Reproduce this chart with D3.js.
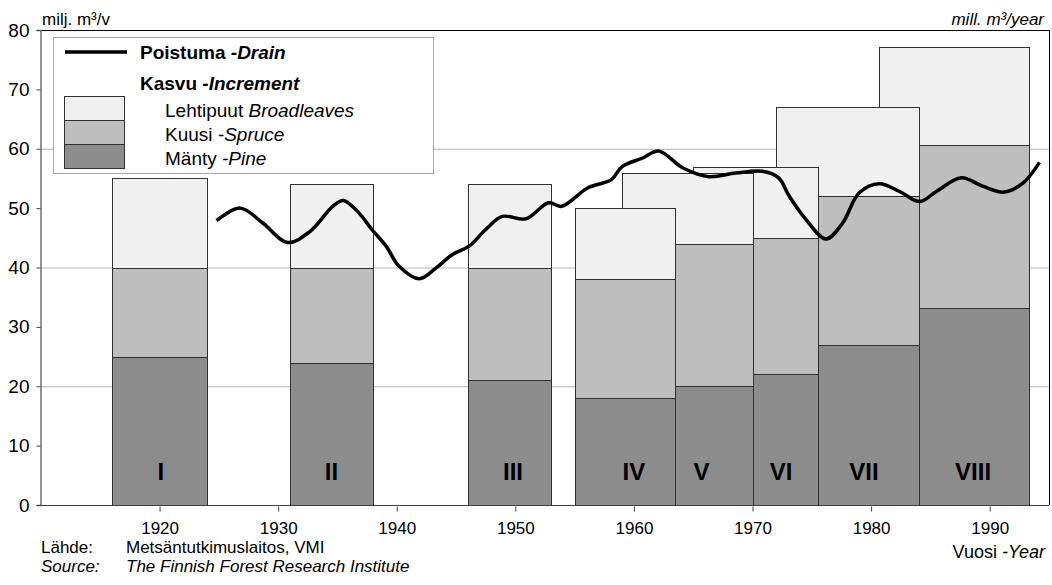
<!DOCTYPE html>
<html>
<head>
<meta charset="utf-8">
<script src="https://cdn.jsdelivr.net/npm/d3@7"></script>
<style>
  body { margin: 0; background: #fff; }
  text { font-family: "Liberation Sans", Arial, sans-serif; fill: #000; }
</style>
</head>
<body>
<div id="chart"></div>
<script>
// inventory periods (roman numerals) and the years each bar spans
var periods = ["I", "II", "III", "IV", "V", "VI", "VII", "VIII"];
var barStart = [1916, 1931, 1946, 1955, 1959, 1965, 1972, 1980.7];
var barEnd = [1924, 1938, 1953, 1963.5, 1970, 1975.5, 1984, 1993.3];
var labelYear = [1920.1, 1934.5, 1949.8, 1960, 1965.7, 1972.4, 1979.4, 1988.6];

// increment by species, mill. m3/year
var pine = [25, 24, 21, 18, 20, 22, 27, 33.2];
var spruce = [15, 16, 19, 20, 24, 23, 25, 27.4];
var broadleaves = [15, 14, 14, 12, 12, 12, 15, 16.6];

// drain
var drainYears = [1924.8, 1926.8, 1928.7, 1930.8, 1932.7, 1934.6, 1935.5, 1936.8, 1937.9, 1939.1,
  1940.2, 1941.9, 1943.3, 1944.7, 1946.1, 1947.5, 1948.9, 1950.9, 1952.8, 1953.9,
  1956.1, 1958.1, 1959.0, 1960.7, 1962.1, 1964.1, 1966.3, 1968.6, 1970.8, 1972.2,
  1973.1, 1974.5, 1976.2, 1977.6, 1979.0, 1980.7, 1982.4, 1984.1, 1985.5, 1987.6,
  1989.4, 1991.2, 1992.8, 1994.2];
var drain = [47.9, 50.0, 47.5, 44.2, 46.1, 50.3, 51.3, 49.2, 46.4, 43.6,
  40.2, 38.1, 39.9, 42.2, 43.6, 46.4, 48.6, 48.2, 50.9, 50.3,
  53.4, 54.8, 57.0, 58.4, 59.6, 56.8, 55.3, 55.9, 56.2, 55.1,
  52.0, 48.1, 44.8, 47.5, 52.6, 54.1, 52.8, 51.1, 52.8, 55.1,
  53.7, 52.7, 54.2, 57.7];

var yTicks = [0, 10, 20, 30, 40, 50, 60, 70, 80];
var xTicks = [1920, 1930, 1940, 1950, 1960, 1970, 1980, 1990];
var gridValues = [20, 40, 60];

var colPine = "#8c8c8c", colSpruce = "#bebebe", colBroad = "#f0f0f0";

var width = 1052, height = 585;

var svg = d3.select("#chart")
  .append("svg")
  .attr("width", width)
  .attr("height", height);

var x = d3.scaleLinear().domain([1910, 1995]).range([41, 1049]);
var y = d3.scaleLinear().domain([0, 80]).range([505, 30]);

// gridlines
svg.selectAll("line.grid")
  .data(gridValues)
  .enter()
  .append("line")
    .attr("class", "grid")
    .attr("x1", x(1910)).attr("x2", x(1995))
    .attr("y1", function(d){ return y(d) + 0.5; })
    .attr("y2", function(d){ return y(d) + 0.5; })
    .attr("stroke", "#b4b4b4")
    .attr("stroke-width", 1);

// build stacked bars; drawn last period first so earlier bars sit on top
var bars = periods.map(function(p, i){
  return {
    name: p, x0: barStart[i], x1: barEnd[i],
    segs: [
      {lo: 0, hi: pine[i], col: colPine},
      {lo: pine[i], hi: pine[i] + spruce[i], col: colSpruce},
      {lo: pine[i] + spruce[i], hi: pine[i] + spruce[i] + broadleaves[i], col: colBroad}
    ]
  };
}).reverse();

var barG = svg.selectAll("g.bar")
  .data(bars)
  .enter()
  .append("g")
    .attr("class", "bar");

barG.selectAll("rect")
  .data(function(d){ return d.segs.map(function(s){ return {x0: d.x0, x1: d.x1, lo: s.lo, hi: s.hi, col: s.col}; }); })
  .enter()
  .append("rect")
    .attr("x", function(d){ return Math.round(x(d.x0)) + 0.5; })
    .attr("width", function(d){ return Math.round(x(d.x1)) - Math.round(x(d.x0)); })
    .attr("y", function(d){ return Math.round(y(d.hi)) + 0.5; })
    .attr("height", function(d){ return Math.round(y(d.lo)) - Math.round(y(d.hi)); })
    .style("fill", function(d){ return d.col; })
    .attr("stroke", "#303030")
    .attr("stroke-width", 1);

// roman numerals
svg.selectAll("text.period")
  .data(periods)
  .enter()
  .append("text")
    .attr("class", "period")
    .attr("x", function(d, i){ return x(labelYear[i]); })
    .attr("y", 480)
    .attr("text-anchor", "middle")
    .style("font-size", "24px")
    .style("font-weight", "bold")
    .text(function(d){ return d; });

// drain line
var drainData = drainYears.map(function(yr, i){ return [yr, drain[i]]; });
svg.append("path")
  .datum(drainData)
  .attr("fill", "none")
  .attr("stroke", "#000")
  .attr("stroke-width", 3.5)
  .attr("stroke-linejoin", "round")
  .attr("d", d3.line()
    .x(function(d){ return x(d[0]); })
    .y(function(d){ return y(d[1]); })
    .curve(d3.curveCatmullRom.alpha(0.5)));

// frame: top and right black, left axis grey
svg.append("line")
  .attr("x1", 40).attr("x2", x(1995))
  .attr("y1", y(80) + 0.5).attr("y2", y(80) + 0.5)
  .attr("stroke", "#000");
svg.append("line")
  .attr("x1", x(1995) + 0.5).attr("x2", x(1995) + 0.5)
  .attr("y1", y(80)).attr("y2", y(0))
  .attr("stroke", "#000");

// y axis
var yAxis = svg.append("g")
  .attr("transform", "translate(40.5,0)")
  .call(d3.axisLeft(y).tickValues(yTicks).tickSize(4).tickPadding(7));
yAxis.select(".domain").attr("stroke", "#707070").attr("stroke-width", 1.5);
yAxis.selectAll(".tick line").attr("stroke", "#404040");
yAxis.selectAll(".tick text")
  .style("font-size", "19px")
  .style("font-family", "Liberation Sans, Arial, sans-serif")
  .attr("fill", "#000");

// x axis
var xAxis = svg.append("g")
  .attr("transform", "translate(0," + (y(0) + 0.5) + ")")
  .call(d3.axisBottom(x).tickValues(xTicks).tickFormat(d3.format("d")).tickSize(6).tickPadding(10));
xAxis.select(".domain").attr("stroke", "#404040").attr("d", "M40,0H" + x(1995));
xAxis.selectAll(".tick line").attr("stroke", "#404040").attr("y1", 1);
xAxis.selectAll(".tick text")
  .style("font-size", "17px")
  .style("font-family", "Liberation Sans, Arial, sans-serif")
  .attr("fill", "#000");

// legend
var legend = svg.append("g");
legend.append("rect")
  .attr("x", 53.5).attr("y", 37.5)
  .attr("width", 380).attr("height", 136)
  .attr("fill", "#fff")
  .attr("stroke", "#a8a8a8");

legend.append("line")
  .attr("x1", 65).attr("x2", 127)
  .attr("y1", 52).attr("y2", 52)
  .attr("stroke", "#000").attr("stroke-width", 3.5);

function legendText(g, xPos, yPos, fi, en, bold, sep) {
  var t = g.append("text")
    .attr("x", xPos).attr("y", yPos)
    .style("font-size", "19px")
    .style("font-weight", bold ? "bold" : "normal");
  t.append("tspan").text(fi);
  t.append("tspan").style("font-style", "italic").text(sep + en);
  return t;
}

legendText(legend, 140, 59, "Poistuma", "Drain", true, " -");
legendText(legend, 140, 90, "Kasvu", "Increment", true, " -");

var swatches = [
  {col: colBroad, fi: "Lehtipuut", en: "Broadleaves", sep: " "},
  {col: colSpruce, fi: "Kuusi", en: "Spruce", sep: " -"},
  {col: colPine, fi: "Mänty", en: "Pine", sep: " -"}
];
legend.selectAll("rect.sw")
  .data(swatches)
  .enter()
  .append("rect")
    .attr("class", "sw")
    .attr("x", 64.5)
    .attr("y", function(d, i){ return 96.5 + i * 24; })
    .attr("width", 60)
    .attr("height", 24)
    .attr("fill", function(d){ return d.col; })
    .attr("stroke", "#303030");
swatches.forEach(function(d, i){
  legendText(legend, 165, 117 + i * 24, d.fi, d.en, false, d.sep);
});

// units and sources
svg.append("text").attr("x", 42).attr("y", 25)
  .style("font-size", "17px").text("milj. m³/v");
svg.append("text").attr("x", 1044).attr("y", 25)
  .attr("text-anchor", "end")
  .style("font-size", "17px").style("font-style", "italic").text("mill. m³/year");

svg.append("text").attr("x", 41).attr("y", 553)
  .style("font-size", "17px").text("Lähde:");
svg.append("text").attr("x", 126).attr("y", 553)
  .style("font-size", "17px").text("Metsäntutkimuslaitos, VMI");
svg.append("text").attr("x", 41).attr("y", 572)
  .style("font-size", "17px").style("font-style", "italic").text("Source:");
svg.append("text").attr("x", 126).attr("y", 572)
  .style("font-size", "17px").style("font-style", "italic").text("The Finnish Forest Research Institute");

var vy = svg.append("text").attr("x", 1045).attr("y", 558)
  .attr("text-anchor", "end")
  .style("font-size", "18px");
vy.append("tspan").text("Vuosi ");
vy.append("tspan").style("font-style", "italic").text("-Year");
</script>
</body>
</html>
